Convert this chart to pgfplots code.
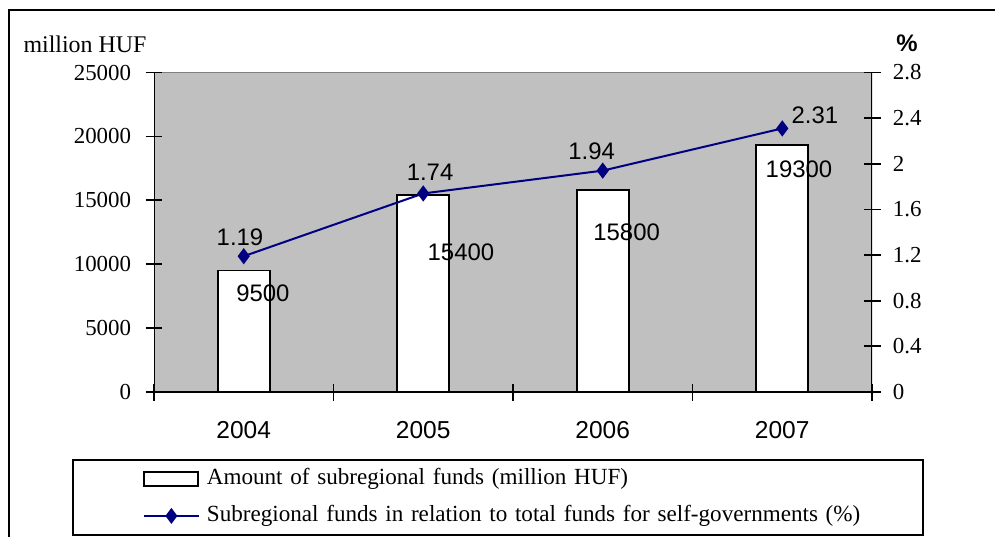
\documentclass[border=0pt]{standalone}
\usepackage{fontspec}
\setmainfont{Liberation Serif}
\setsansfont{Liberation Sans}
\usepackage{pgfplots}
\pgfplotsset{compat=1.18}

\definecolor{plotgray}{HTML}{C0C0C0}
\definecolor{edgegray}{HTML}{808080}
\definecolor{navyline}{HTML}{000080}

\newcommand{\tickfont}{\fontsize{11.5}{13}\selectfont}
\newcommand{\labfont}{\sffamily\fontsize{12}{14}\selectfont}

\begin{document}
\begin{tikzpicture}
\pgfplotsset{
  common/.style={
    scale only axis, width=359bp, height=159.75bp,
    xmin=-0.5, xmax=3.5, ymin=0,
    scaled y ticks=false,
    major tick length=8.5bp,
    axis line style={draw=none},
    tick style={line width=0.9bp, black},
  }
}
% bars: amount of funds, left axis
\begin{axis}[common, ymax=25000,
  axis on top,
  xtick pos=bottom, ytick pos=left,
  xtick={-0.5,0.5,1.5,2.5,3.5}, xticklabels={},
  extra x ticks={0,1,2,3}, extra x tick labels={2004,2005,2006,2007},
  extra x tick style={major tick length=0pt,
    xticklabel style={font=\sffamily\fontsize{12.3}{14}\selectfont, anchor=base, yshift=-23bp}},
  ytick={0,5000,10000,15000,20000,25000},
  yticklabels={0,5000,10000,15000,20000,25000},
  yticklabel style={font=\tickfont, anchor=east, inner sep=0pt, xshift=-7bp},
  tick align=center,
  legend style={at={(axis description cs:-0.1142,-0.2097)}, anchor=north west,
    draw=black, line width=0.9bp, inner xsep=0pt, inner ysep=4bp,
    row sep=7.5bp, column sep=0pt, font=\fontsize{11.6}{13}\selectfont,
    nodes={text width=354.4bp, inner xsep=3.5bp, text height=8.5bp, text depth=2.5bp, inner ysep=0pt}},
  legend cell align=left,
]
\fill[plotgray] (rel axis cs:0,0) rectangle (rel axis cs:1,1);
\draw[edgegray, line width=0.9bp] (rel axis cs:0,1) -- (rel axis cs:1,1);
\addplot[ybar, bar width=26bp, bar shift=0pt, draw=black, fill=white, line width=0.9bp,
  legend image code/.code={
    \path[draw=none, fill=none] (0bp,0bp) -- (63bp,0bp);
    \draw[line width=0.9bp, draw=black, fill=white] (35.5bp,-3.5bp) rectangle (62.5bp,3.5bp);}]
  coordinates {(0,9500) (1,15400) (2,15800) (3,19300)};
\addlegendentry{Amount of subregional funds (million HUF)}
\addlegendimage{legend image code/.code={
    \path[draw=none, fill=none] (0bp,0bp) -- (63bp,0bp);
    \draw[navyline, line width=1bp] (35.5bp,0bp) -- (63bp,0bp);
    \draw[navyline, mark=diamond*, mark size=3.25bp, mark options={fill=navyline}] plot coordinates {(49.25bp,0bp)};}}
\addlegendentry{Subregional funds in relation to total funds for self-governments (\%)}
\draw[black, line width=0.9bp] (rel axis cs:0,1) -- (rel axis cs:0,0) -- (rel axis cs:1,0);
\node[font=\labfont] at (axis cs:0.107,7746) {9500};
\node[font=\labfont] at (axis cs:1.210,10900) {15400};
\node[font=\labfont] at (axis cs:2.133,12465) {15800};
\node[font=\labfont] at (axis cs:3.093,17426) {19300};
\end{axis}
% line: share of total funds, right axis
\begin{axis}[common, ymax=2.8,
  xtick=\empty, ytick pos=right,
  ytick={0,0.4,0.8,1.2,1.6,2,2.4,2.8},
  yticklabels={0,0.4,0.8,1.2,1.6,2,2.4,2.8},
  yticklabel style={font=\tickfont, anchor=west, inner sep=0pt, xshift=6bp},
  tick align=center,
]
\draw[black, line width=0.9bp] (rel axis cs:1,0) -- (rel axis cs:1,1);
\addplot[navyline, line width=1bp, mark=diamond*, mark size=3.25bp, mark options={fill=navyline}]
  coordinates {(0,1.19) (1,1.74) (2,1.94) (3,2.31)};
\node[font=\labfont] at (axis cs:-0.021,1.358) {1.19};
\node[font=\labfont] at (axis cs:1.038,1.922) {1.74};
\node[font=\labfont] at (axis cs:1.938,2.106) {1.94};
\node[font=\labfont] at (axis cs:3.182,2.421) {2.31};
\end{axis}
\node[font=\fontsize{12}{14}\selectfont] at (-34.5bp,174bp) {million HUF};
\node[font=\sffamily\bfseries\fontsize{12}{14}\selectfont] at (376.5bp,174.5bp) {\%};
\draw[line width=0.9bp] (420.5bp,191bp) -- (-72.5bp,191bp) -- (-72.5bp,-72.5bp);
\pgfresetboundingbox
\useasboundingbox (-77bp,-72.5bp) rectangle (420.5bp,196bp);
\end{tikzpicture}
\end{document}
